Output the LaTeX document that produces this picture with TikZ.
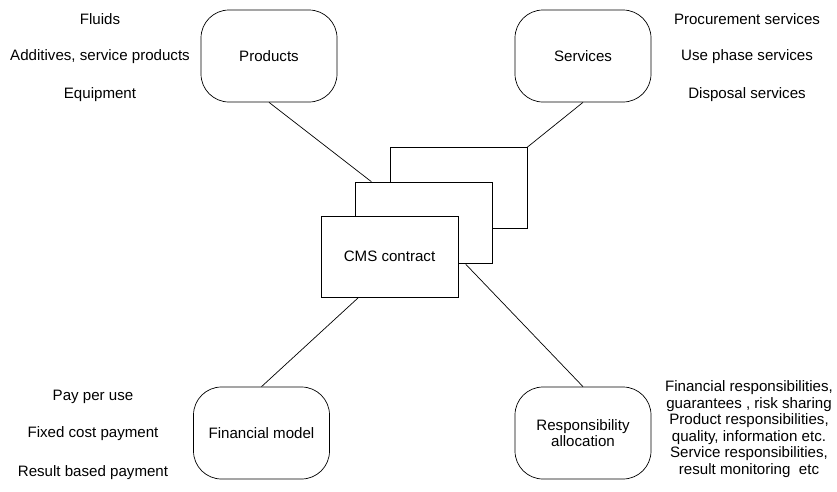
\documentclass[tikz,border=0pt]{standalone}
\usepackage{fontspec}
\setmainfont{Liberation Sans}
\usetikzlibrary{calc}
\begin{document}
\begin{tikzpicture}[x=1pt,y=-1pt,
  every node/.style={font=\fontsize{15.1}{16.6}\selectfont},
  roundbox/.style={draw, line width=0.7pt, rounded corners=28pt, minimum width=136pt, minimum height=92pt, inner sep=0pt, align=center},
  sheet/.style={draw, line width=0.7pt, fill=white, minimum width=137pt, minimum height=81pt, inner sep=0pt},
  label/.style={inner sep=0pt, align=center},
  link/.style={line width=0.7pt}]
\useasboundingbox (0,0) rectangle (837,491);
% rounded boxes
\node[roundbox] (prod) at (269,56) {Products};
\node[roundbox] (serv) at (583,56) {Services};
\node[roundbox] (fin) at (261.5,433) {Financial model};
\node[roundbox] (resp) at (583,433) {Responsibility\\allocation};
% stacked sheets
\node[sheet] (back) at (458.5,188) {};
\node[sheet] (mid) at (424,222.5) {};
\node[sheet] (front) at (389.5,256.5) {CMS contract};
% connectors
\draw[link] (prod.south) -- (mid);
\draw[link] (serv.south) -- (back.north east);
\draw[link] (fin.north) -- ($(front.south west)+(38,0)$);
\draw[link] (resp.north) -- ($(mid.south east)+(-27,1)$);
% labels
\node[label] (l1) at (100,19) {Fluids};
\node[label] (l2) at (100,57) {Additives, service products};
\node[label] (l3) at (100,95) {Equipment};
\node[label] (r1) at (747,19) {Procurement services};
\node[label] (r2) at (747,57) {Use phase services};
\node[label] (r3) at (747,95) {Disposal services};
\node[label] (f1) at (93,397) {Pay per use};
\node[label] (f2) at (93,434) {Fixed cost payment};
\node[label] (f3) at (93,473) {Result based payment};
\node[label] (rr) at (749,429) {Financial responsibilities,\\guarantees , risk sharing\\Product responsibilities,\\quality, information etc.\\Service responsibilities,\\result monitoring\ \ etc};
\end{tikzpicture}
\end{document}
